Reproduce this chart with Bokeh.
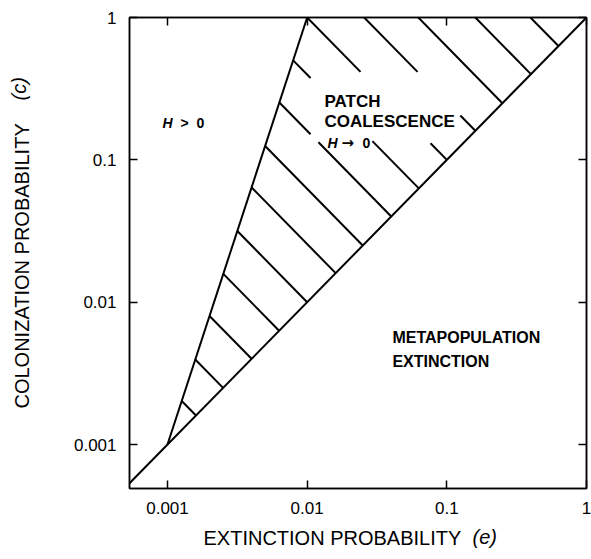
import math
from bokeh.plotting import figure
from bokeh.models import Range1d, LogAxis, FixedTicker, CustomJSTickFormatter, Label
from bokeh.embed import file_html
from bokeh.resources import INLINE

# ---- data -------------------------------------------------------------
tick_values = [0.001, 0.01, 0.1, 1]
x_limits = [10 ** -3.272, 1.0]
y_limits = [10 ** -3.309, 1.0]

# persistence boundary c = e (diagonal)
diag_e = [0.0004, 1.0]
diag_c = [0.0004, 1.0]
# patch-coalescence boundary (steep line)
steep_e = [0.001, 0.01]
steep_c = [0.001, 1.0]

# hatch lines: e-value where each hatch meets the diagonal
hatch_e = [0.0016, 0.0025, 0.004, 0.0063, 0.01, 0.016, 0.025,
           0.04, 0.063, 0.1, 0.16, 0.25, 0.4, 0.63]
# gaps (in e) left in some hatch lines for the text
hatch_gaps = {0.04: (0.01057, 0.01205),
              0.063: (0.01057, 0.0293),
              0.1: (0.0241, 0.0764),
              0.16: (0.0617, 0.125)}

FONT = "Liberation Sans"

p = figure(x_axis_type="log", y_axis_type="log",
           x_range=Range1d(*x_limits), y_range=Range1d(*y_limits),
           frame_width=457, frame_height=471,
           min_border_left=129, min_border_right=5,
           min_border_top=17, min_border_bottom=71,
           output_backend="svg", toolbar_location=None)
p.xgrid.visible = False
p.ygrid.visible = False
p.outline_line_color = "black"
p.outline_line_width = 1.5
p.background_fill_color = "white"
p.border_fill_color = "white"

fmt = CustomJSTickFormatter(code="return tick.toString();")
blank = CustomJSTickFormatter(code="return '';")

def style_axis(ax, labels=True):
    ax.ticker = FixedTicker(ticks=tick_values)
    ax.formatter = fmt if labels else blank
    ax.major_tick_in = 8
    ax.major_tick_out = 0
    ax.minor_tick_in = 0
    ax.minor_tick_out = 0
    ax.axis_line_width = 1.5
    ax.axis_line_color = "black"
    ax.major_tick_line_width = 1.5
    ax.major_tick_line_color = "black"
    ax.major_label_text_font = FONT
    ax.major_label_text_font_size = "17px" if labels else "0px"
    ax.major_label_text_color = "black"
    ax.major_label_standoff = 13 if labels else 0
    ax.axis_label = None

for ax in p.xaxis + p.yaxis:
    style_axis(ax)

top = LogAxis()
right = LogAxis()
style_axis(top, labels=False)
style_axis(right, labels=False)
p.add_layout(top, "above")
p.add_layout(right, "right")

# boundaries
p.line(diag_e, diag_c, line_color="black", line_width=2)
p.line(steep_e, steep_c, line_color="black", line_width=2)

# hatching: lines of constant e*c, from the steep line / top edge to the diagonal
xs, ys = [], []
for ed in hatch_e:
    k = math.log10(ed)
    u0 = max(k / 2 - 1.5, 2 * k)
    e_start = 10 ** u0
    pieces = [(e_start, ed)]
    if ed in hatch_gaps:
        g0, g1 = hatch_gaps[ed]
        pieces = [(e_start, g0), (g1, ed)]
    for a, b in pieces:
        xs.append([a, b])
        ys.append([ed * ed / a, ed * ed / b])
p.multi_line(xs, ys, line_color="black", line_width=2)

def mk(x, y, text, size, style="bold", font=FONT, **kw):
    return Label(x=x, y=y, text=text, text_font=font, text_font_size=size,
                 text_font_style=style, text_color="black",
                 text_baseline="alphabetic", text_align="left", **kw)

def lab(*a, **kw):
    p.add_layout(mk(*a, **kw))

# region labels
lab(9.21e-4, 0.1803, "H", "14px", "bold italic")
lab(1.239e-3, 0.1803, ">", "14px")
lab(1.612e-3, 0.1803, "0", "14px")

lab(0.01330, 0.2572, "PATCH", "17px")
lab(0.01330, 0.1846, "COALESCENCE", "17px")
lab(0.01397, 0.1315, "H", "14px", "bold italic")
lab(0.01760, 0.1315, "\u2192", "15px", font="DejaVu Sans")
lab(0.02488, 0.1315, "0", "14px")

lab(0.04078, 0.005621, "METAPOPULATION", "16px")
lab(0.04078, 0.003850, "EXTINCTION", "16px")

# axis titles, placed in the side panels (screen units)
p.add_layout(mk(74, 1, "EXTINCTION PROBABILITY", "20px", "normal",
                x_units="screen", y_units="screen"), "below")
p.add_layout(mk(343, 24, "(e)", "20px", "italic",
                x_units="screen", y_units="screen"), "below")
p.add_layout(mk(-27, 80, "COLONIZATION PROBABILITY", "20px", "normal",
                x_units="screen", y_units="screen", angle=math.pi / 2), "left")
p.add_layout(mk(-8, 388, "(c)", "20px", "italic",
                x_units="screen", y_units="screen", angle=math.pi / 2), "left")

open("out.html", "w").write(file_html(p, INLINE))
